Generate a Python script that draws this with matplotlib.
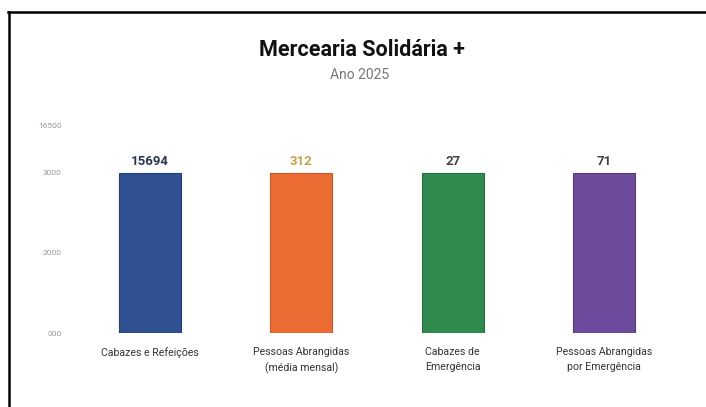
import matplotlib
matplotlib.use("Agg")
import matplotlib.pyplot as plt
from matplotlib.lines import Line2D

plt.rcParams['font.family'] = ['Roboto', 'DejaVu Sans']

categories = ["Cabazes e Refeições", "Pessoas Abrangidas\n(média mensal)",
              "Cabazes de\nEmergência", "Pessoas Abrangidas\npor Emergência"]
values = [15694, 312, 27, 71]
# displayed bar heights (all bars drawn at the same normalised height)
bar_heights = [1.0, 1.0, 1.0, 1.0]
colors = ["#2f5092", "#ec6b33", "#2f8a50", "#6c4a9c"]
edge_colors = ["#24407a", "#c85a28", "#256f40", "#573b80"]
label_colors = ["#2a3550", "#c9a24a", "#444444", "#444444"]
tick_positions = [0.0, 0.5, 1.0, 1.29]
tick_labels = ["000", "2000", "3000", "16500"]
title = "Mercearia Solidária +"
subtitle = "Ano 2025"

fig = plt.figure(figsize=(7.06, 4.07), dpi=100)
W, H = 706, 407
ax = fig.add_axes([74.5 / W, 74 / H, (679.5 - 74.5) / W, (333 - 126) / H])

x = range(len(categories))
ax.bar(x, bar_heights, width=0.41, color=colors, edgecolor=edge_colors, linewidth=0.8)
for i, (h, v) in enumerate(zip(bar_heights, values)):
    ax.text(i, h + 0.03, str(v), ha="center", va="bottom", fontsize=9.5,
            fontweight="bold", color=label_colors[i])

ax.set_xlim(-0.5, len(categories) - 0.5)
ax.set_ylim(0, 1.29)
ax.set_xticks(list(x))
ax.set_xticklabels(categories, fontsize=7.6, color="#333333", linespacing=1.6,
                   va="top")
ax.set_yticks(tick_positions)
ax.set_yticklabels(tick_labels, fontsize=6, color="#999999")
ax.tick_params(axis="x", length=0, pad=10)
ax.tick_params(axis="y", length=0, pad=9)
for s in ax.spines.values():
    s.set_visible(False)

fig.text(362 / W, 1 - 50 / H, title, ha="center", va="center", fontsize=15.5,
         fontweight="bold", color="#111111")
fig.text(360 / W, 1 - 75 / H, subtitle, ha="center", va="center", fontsize=10,
         color="#777777")

# scanned frame edges (top and left)
fig.add_artist(Line2D([8 / W, 1], [1 - 12 / H, 1 - 12 / H], color="black",
                      linewidth=1.8, transform=fig.transFigure))
fig.add_artist(Line2D([9 / W, 9 / W], [0, 1 - 12 / H], color="black",
                      linewidth=1.8, transform=fig.transFigure))

fig.savefig("out.png", dpi=100)
